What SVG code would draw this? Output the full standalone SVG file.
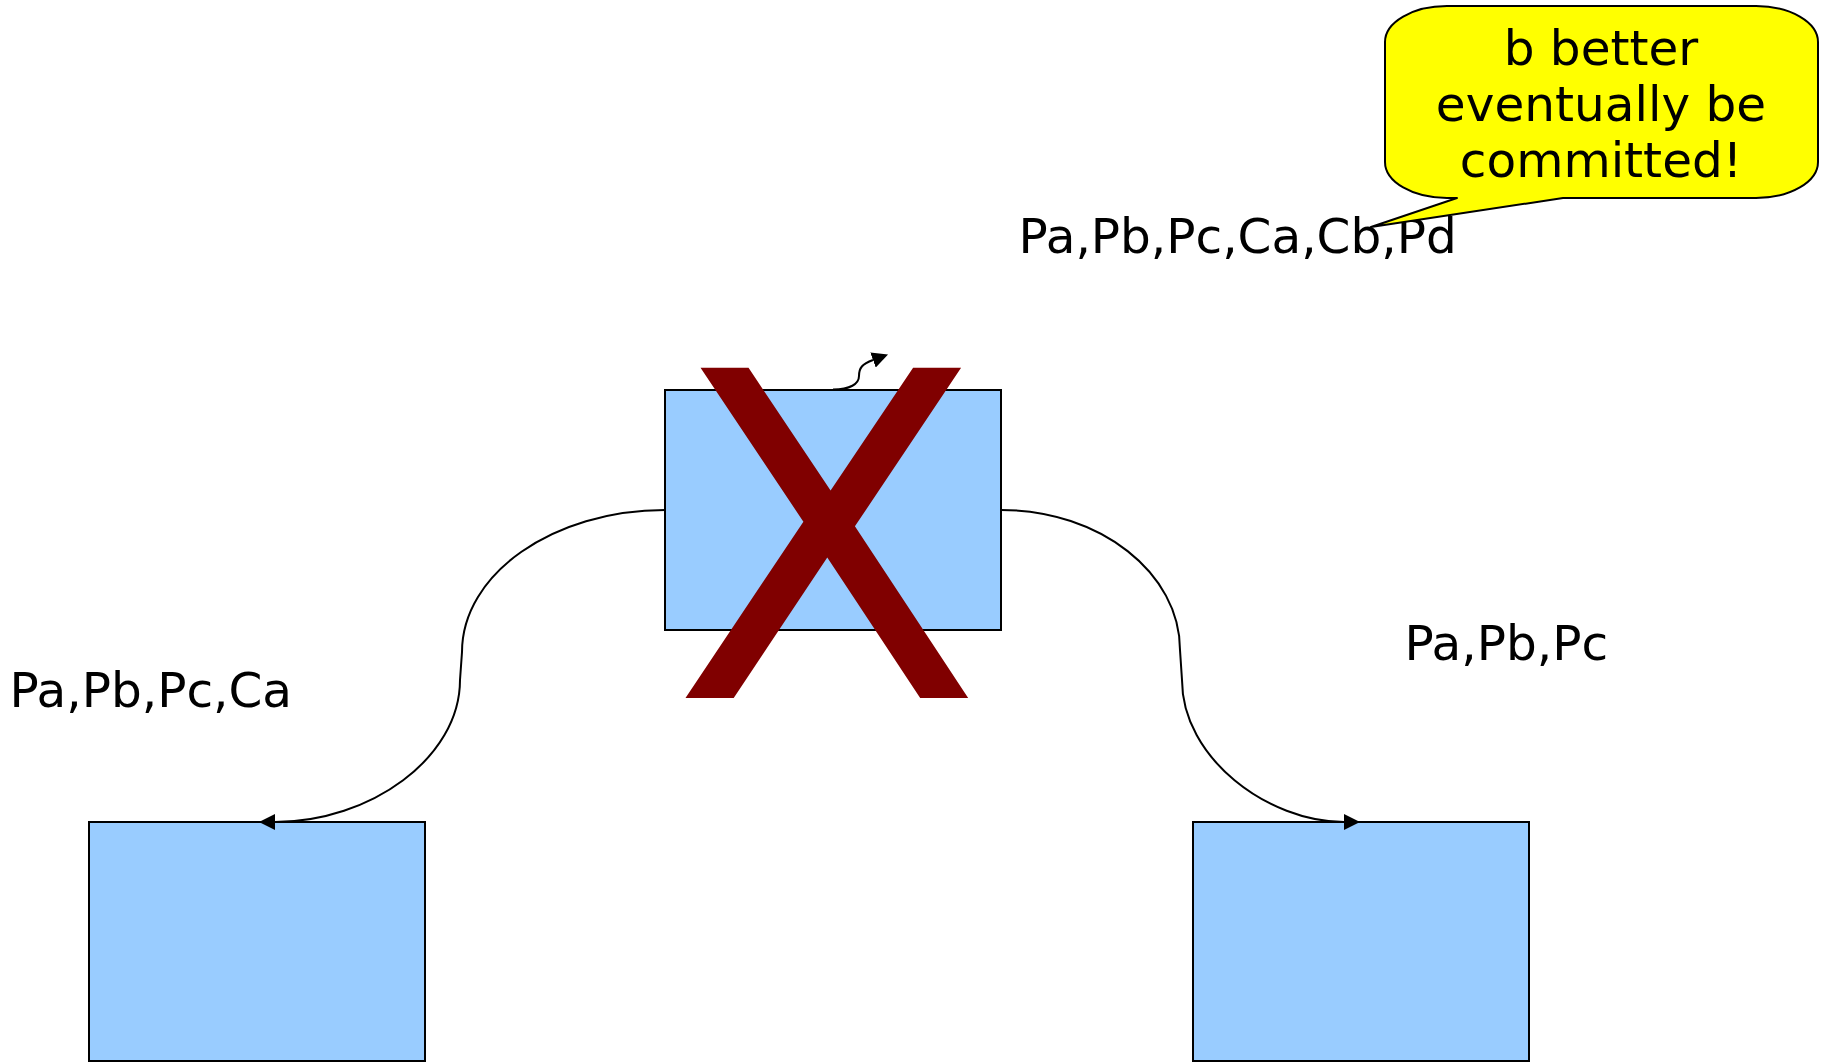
<svg xmlns="http://www.w3.org/2000/svg" width="1828" height="1062" viewBox="0 0 1828 1062">
  <style>
    .box { fill: #99ccff; stroke: #000000; stroke-width: 2; }
    .conn { fill: none; stroke: #000000; stroke-width: 2; }
    .lbl { font-family: "DejaVu Sans", "Liberation Sans", sans-serif; font-size: 48.5px; fill: #000000; }
    .bubble { fill: #ffff00; stroke: #000000; stroke-width: 2; stroke-linejoin: round; }
    .cross { font-family: "DejaVu Sans", "Liberation Sans", sans-serif; font-size: 453px; fill: #800000; }
  </style>
  <defs>
    <marker id="arrow" markerUnits="userSpaceOnUse" markerWidth="16" markerHeight="16" viewBox="0 0 16 16" refX="0" refY="8" orient="auto">
      <path d="M0,0 L16,8 L0,16 z" fill="#000000"/>
    </marker>
  </defs>
  <rect width="1828" height="1062" fill="#ffffff"/>

  <g id="node-center">
    <rect class="box" x="665" y="390" width="336" height="240"/>
  </g>
  <g id="node-left">
    <rect class="box" x="89" y="822" width="336" height="239"/>
  </g>
  <g id="node-right">
    <rect class="box" x="1193" y="822" width="336" height="239"/>
  </g>

  <g id="connectors">
    <path class="conn" d="M665,510 C553,510 462,574 462,652 L460,680 C460,758 370,822 275,822" marker-end="url(#arrow)"/>
    <path class="conn" d="M1001,510 C1100,510 1180,573 1180,650 L1182,680 C1182,758 1268,822 1344,822" marker-end="url(#arrow)"/>
    <path class="conn" d="M833,389.5 C850,389.5 859,384 859,376 C859,368 862,364 873,360" marker-end="url(#arrow)"/>
  </g>

  <g id="cross">
    <text class="cross" x="672" y="698">X</text>
  </g>

  <g id="label-left">
    <text class="lbl" x="9.5" y="706.7">Pa,Pb,Pc,Ca</text>
  </g>
  <g id="label-right">
    <text class="lbl" x="1404.5" y="660">Pa,Pb,Pc</text>
  </g>
  <g id="label-top">
    <text class="lbl" x="1018.6" y="253.3">Pa,Pb,Pc,Ca,Cb,Pd</text>
  </g>

  <g id="callout">
    <path class="bubble" d="M1447,6 L1756,6 A62,36 0 0 1 1818,42 L1818,162 A62,36 0 0 1 1756,198 L1563,198 L1371,227 L1457,198 L1447,198 A62,36 0 0 1 1385,162 L1385,42 A62,36 0 0 1 1447,6 z"/>
    <text class="lbl" x="1601" y="65" text-anchor="middle">b better</text>
    <text class="lbl" x="1601" y="121" text-anchor="middle">eventually be</text>
    <text class="lbl" x="1601" y="177" text-anchor="middle">committed!</text>
  </g>
</svg>
